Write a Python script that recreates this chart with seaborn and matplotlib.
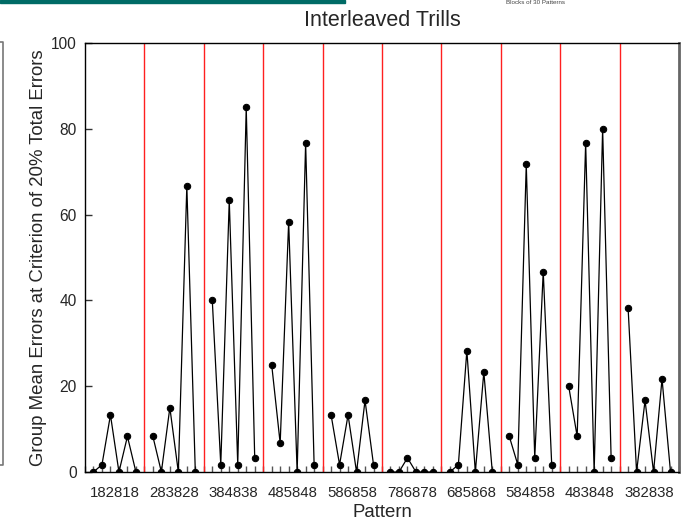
import numpy as np
import pandas as pd
import matplotlib
matplotlib.use("Agg")
import matplotlib.pyplot as plt
import seaborn as sns
from matplotlib.patches import Rectangle
from matplotlib.lines import Line2D

# ---- data ----
patterns = ["182818", "283828", "384838", "485848", "586858",
            "786878", "685868", "584858", "483848", "382838"]
g01 = [0, 1.7, 13.3, 0, 8.3, 0]
g02 = [8.3, 0, 15.0, 0, 66.7, 0]
g03 = [40.0, 1.7, 63.3, 1.7, 85.0, 3.3]
g04 = [25.0, 6.7, 58.3, 0, 76.7, 1.7]
g05 = [13.3, 1.7, 13.3, 0, 16.7, 1.7]
g06 = [0, 0, 3.3, 0, 0, 0]
g07 = [0, 1.7, 28.3, 0, 23.3, 0]
g08 = [8.3, 1.7, 71.7, 3.3, 46.7, 1.7]
g09 = [20.0, 8.3, 76.7, 0, 80.0, 3.3]
g10 = [38.3, 0, 16.7, 0, 21.7, 0]
groups = [g01, g02, g03, g04, g05, g06, g07, g08, g09, g10]
yticks = [0, 20, 40, 60, 80, 100]

rows = []
for gi, vals in enumerate(groups):
    for j, v in enumerate(vals):
        rows.append({"pattern": patterns[gi], "slot": gi * 7 + j + 1, "err": v})
df = pd.DataFrame(rows)

sns.set_style("white")
plt.rcParams["font.family"] = ["Liberation Sans", "DejaVu Sans"]

fig = plt.figure(figsize=(6.93, 5.24), dpi=100)
ax = fig.add_axes([85 / 693, 1 - 472 / 524, (679 - 85) / 693, (472 - 43) / 524])

# group separators
for k in range(1, len(patterns)):
    ax.axvline(7 * k, color="#ff2020", lw=1.0, zorder=1)

sns.lineplot(data=df, x="slot", y="err", units="pattern", estimator=None,
             color="black", lw=0.9, marker="o", markersize=4.6,
             markeredgecolor="black", ax=ax, zorder=3, legend=False)

ax.set_xlim(0, 7 * len(patterns))
ax.set_ylim(0, 100)
ax.set_xticks([7 * k + 3.5 for k in range(len(patterns))])
ax.set_xticklabels(patterns, fontsize=10.8)
ax.set_xticks(np.arange(0, 7 * len(patterns) + 1), minor=True)
ax.tick_params(axis="x", which="major", bottom=True, length=0, pad=10)
ax.tick_params(axis="x", which="minor", bottom=True, direction="in",
               length=4, width=1, color="#555555")
ax.set_yticks(yticks)
ax.set_yticklabels([str(v) for v in yticks], fontsize=11.2)
ax.tick_params(axis="y", which="major", left=True, direction="in", length=5,
               width=1, color="#333333", pad=6)

for s in ["left", "bottom", "top"]:
    ax.spines[s].set_color("black")
    ax.spines[s].set_linewidth(1.0)
ax.spines["right"].set_color("#666666")
ax.spines["right"].set_linewidth(2.0)

ax.set_xlabel("Pattern", fontsize=13.4, labelpad=3)
ax.set_ylabel("Group Mean Errors at Criterion of 20% Total Errors",
              fontsize=13.4, labelpad=3)
fig.text(382 / 693, 1 - 21 / 524, "Interleaved Trills", fontsize=15.5,
         ha="center", va="center")

# cropped page artifacts
fig.patches.append(Rectangle((0, 1 - 3 / 524), 345 / 693, 3 / 524,
                             transform=fig.transFigure, color="#006B66",
                             zorder=5))
fig.text(536 / 693, 1 - 3 / 524, "Blocks of 30 Patterns", fontsize=4.5,
         color="#444444", ha="center", va="center")
fig.lines.append(Line2D([0, 3 / 693, 3 / 693, 0],
                        [1 - 42 / 524, 1 - 42 / 524, 1 - 465 / 524, 1 - 465 / 524],
                        transform=fig.transFigure, color="#777777", lw=1.2))

fig.savefig("out.png", dpi=100)
